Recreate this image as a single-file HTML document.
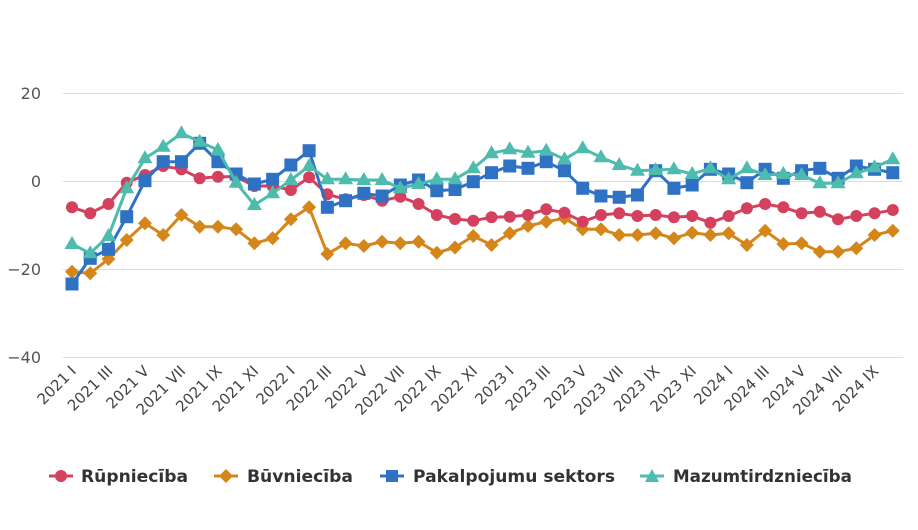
<!DOCTYPE html>
<html><head><meta charset="utf-8"><style>
html,body{margin:0;padding:0;background:#fff;}
svg{display:block;font-family:"DejaVu Sans","Liberation Sans",sans-serif;}
</style></head><body>
<svg id="c" width="918" height="530" viewBox="0 0 918 530" xmlns="http://www.w3.org/2000/svg">
<rect width="918" height="530" fill="#fff"/>
<g stroke="#dcdcdc" stroke-width="1">
<line x1="63" x2="903" y1="93.5" y2="93.5"/>
<line x1="63" x2="903" y1="181.5" y2="181.5"/>
<line x1="63" x2="903" y1="269.5" y2="269.5"/>
<line x1="63" x2="903" y1="357.5" y2="357.5"/>
</g>
<g fill="#555" font-size="16" text-anchor="end">
<text x="41" y="99">20</text>
<text x="41" y="187">0</text>
<text x="41" y="275">−20</text>
<text x="41" y="363">−40</text>
</g>
<g id="lab" fill="#444" font-size="15" text-anchor="end"></g>
<g id="ser"></g>
<g font-size="17" font-weight="bold" fill="#333">
<line x1="49" x2="73" y1="476" y2="476" stroke="#d4415e" stroke-width="3"/><circle cx="61" cy="476" r="6" fill="#d4415e"/>
<text x="81" y="482" textLength="107" lengthAdjust="spacingAndGlyphs">Rūpniecība</text>
<line x1="214" x2="238" y1="476" y2="476" stroke="#d4861b" stroke-width="3"/><path d="M226 469 L233 476 L226 483 L219 476Z" fill="#d4861b"/>
<text x="247" y="482" textLength="106" lengthAdjust="spacingAndGlyphs">Būvniecība</text>
<line x1="380" x2="404" y1="476" y2="476" stroke="#2f72c4" stroke-width="3"/><rect x="386" y="470" width="12" height="12" fill="#2f72c4"/>
<text x="413" y="482" textLength="202" lengthAdjust="spacingAndGlyphs">Pakalpojumu sektors</text>
<line x1="640" x2="664" y1="476" y2="476" stroke="#4dbbad" stroke-width="3"/><path d="M652 469 L659 482 L645 482Z" fill="#4dbbad"/>
<text x="673" y="482" textLength="179" lengthAdjust="spacingAndGlyphs">Mazumtirdzniecība</text>
</g>
</svg>
<script>
var NS="http://www.w3.org/2000/svg";
function X(i){return 72+18.24*i;}
var red=[207.3,213.3,204,182.7,175,166,169.3,178.3,176.7,176.7,186,186,190,177.3,194.3,199.3,195,200.7,196.7,204,215,219,220.7,217.3,216.7,215,209.3,212.7,221.7,215,213.3,216,215,217.3,216,222.7,216,208.3,204,207.3,213.3,211.7,219.3,216,213.3,210];
var ora=[271.7,273.3,259,240,223.3,235,215,226.7,226.7,229.3,243.3,238.3,219.3,207.3,254,243.3,246,241.7,243.3,241.7,252.7,247.5,236,245,233.3,226,221.7,218.3,229.3,229.3,235,235,233.3,238.3,232.7,235,233.3,245,230.7,244,243.3,251.7,251.7,248.3,235,230.7];
var blu=[284,258.3,249.3,216.7,180.7,161.7,161.7,143.3,161.7,174,184,179.3,165,150.7,207.3,200.7,193.3,196,185,180,190.7,189.5,181.7,172.7,166,168.3,161.7,170.7,188.3,196,197.3,195,170.7,188.3,185,169.3,174,182.7,169.3,178.3,170.7,168.3,178.3,166,169.3,172.7];
var tea=[244,253.3,236,188.3,158.3,146.7,133.3,141.7,150,182.7,205,193.3,180,166,179.3,179.3,180,180,188.3,184,179.3,179.3,168.3,153.3,149.3,152.7,150.7,159.3,148.3,157.3,165,170.7,170,169.3,174,168.3,179.3,168.3,175,174,175,183.3,183.3,173.3,167.3,159.3];
var g=document.getElementById("ser");
function el(t,a){var e=document.createElementNS(NS,t);for(var k in a)e.setAttribute(k,a[k]);g.appendChild(e);return e;}
function series(d,c,m){
 var p="";d.forEach(function(y,i){p+=(i?"L":"M")+X(i).toFixed(1)+" "+y+" ";});
 el("path",{d:p,fill:"none",stroke:c,"stroke-width":3,"stroke-linejoin":"round"});
 d.forEach(function(y,i){var x=X(i);
  if(m=="c")el("circle",{cx:x,cy:y,r:6,fill:c});
  else if(m=="d")el("path",{d:"M"+x+" "+(y-7)+"L"+(x+7)+" "+y+"L"+x+" "+(y+7)+"L"+(x-7)+" "+y+"Z",fill:c});
  else if(m=="s")el("rect",{x:x-6.5,y:y-6.5,width:13,height:13,fill:c});
  else el("path",{d:"M"+x+" "+(y-8)+"L"+(x+7.5)+" "+(y+5)+"L"+(x-7.5)+" "+(y+5)+"Z",fill:c});
 });
}
series(ora,"#d4861b","d");
series(red,"#d4415e","c");
series(blu,"#2f72c4","s");
series(tea,"#4dbbad","t");
var rom=["I","II","III","IV","V","VI","VII","VIII","IX","X","XI","XII"];
var L=document.getElementById("lab");
for(var i=0;i<46;i+=2){var yr=2021+Math.floor(i/12);var t=document.createElementNS(NS,"text");
 var x=X(i)+5,y=372;t.setAttribute("x",x);t.setAttribute("y",y);
 t.setAttribute("transform","rotate(-45 "+x+" "+y+")");t.textContent=yr+" "+rom[i%12];L.appendChild(t);}
</script>
</body></html>
